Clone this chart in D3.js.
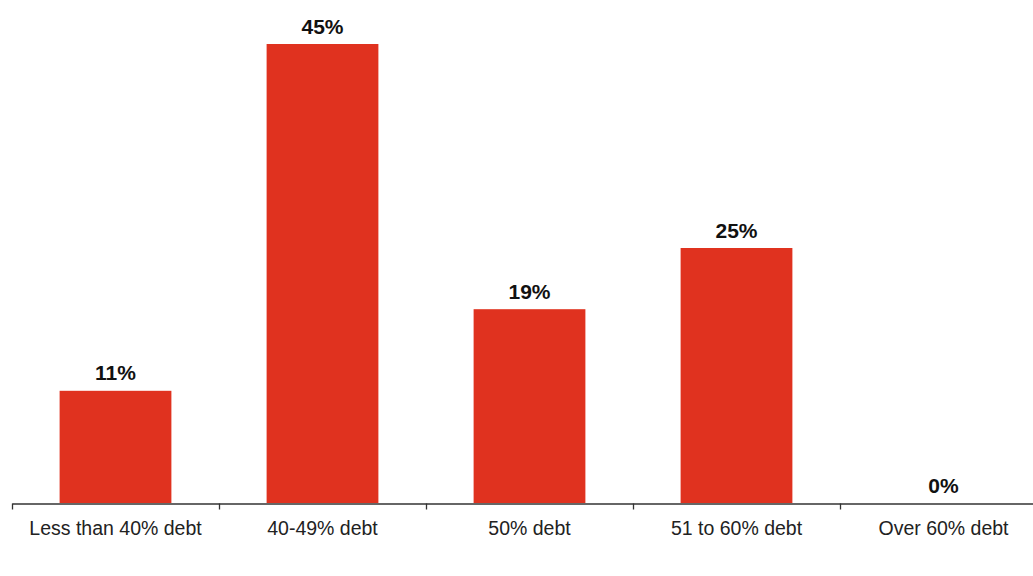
<!DOCTYPE html>
<html><head><meta charset="utf-8">
<script src="https://cdn.jsdelivr.net/npm/d3@7"></script>
<style>body{margin:0;background:#fff}svg{display:block}</style>
</head><body>
<svg id="c" width="1033" height="576"></svg>
<script>
const categories = ["Less than 40% debt","40-49% debt","50% debt","51 to 60% debt","Over 60% debt"];
const values = [11,45,19,25,0];
const valueLabels = ["11%","45%","19%","25%","0%"];

const svg = d3.select("#c");
const x = d3.scaleBand().domain(categories).range([12,1047]).paddingInner(0.46).paddingOuter(0.23);
const xTicks = d3.scaleBand().domain(categories).range([12,1047]);
const y = d3.scaleLinear().domain([0,45]).range([503,44]);

svg.selectAll("rect.bar").data(values).join("rect")
  .attr("class","bar")
  .attr("x",(d,i)=>x(categories[i]))
  .attr("width",x.bandwidth())
  .attr("y",d=>y(d))
  .attr("height",d=>y(0)-y(d))
  .attr("fill","#E0321F");

svg.selectAll("text.val").data(values).join("text")
  .attr("class","val")
  .attr("x",(d,i)=>xTicks(categories[i])+xTicks.bandwidth()/2)
  .attr("y",d=>y(d)-10.5)
  .attr("text-anchor","middle")
  .attr("font-family","Liberation Sans, Arial, sans-serif")
  .attr("font-weight","bold")
  .attr("font-size","21px")
  .attr("fill","#111")
  .text((d,i)=>valueLabels[i]);

const axis = d3.axisBottom(xTicks).tickSize(0).tickSizeOuter(0);
const g = svg.append("g").attr("transform","translate(0,503.5)").call(axis);
g.select(".domain").attr("stroke","#333").attr("stroke-width",1.3);
g.selectAll(".tick text")
  .attr("dy",0).attr("y",31.5)
  .attr("font-family","Liberation Sans, Arial, sans-serif")
  .attr("font-size","19.5px")
  .attr("fill","#222");
const bounds = categories.map(c=>xTicks(c));
g.selectAll("line.sep").data(bounds).join("line")
  .attr("class","sep")
  .attr("x1",d=>d+0.5).attr("x2",d=>d+0.5)
  .attr("y1",0).attr("y2",6)
  .attr("stroke","#333").attr("stroke-width",1.3);
</script>
</body></html>
